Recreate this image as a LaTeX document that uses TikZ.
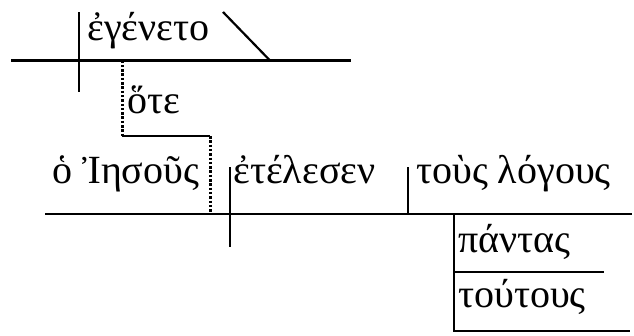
\documentclass[tikz,border=0pt]{standalone}
\usepackage{fontspec}
\setmainfont{Liberation Serif}
\begin{document}
\begin{tikzpicture}[x=1pt,y=-1pt,
  ln/.style={line width=2.2pt},
  dl/.style={line width=3pt,dash pattern=on 2.5pt off 1.8pt},
  wd/.style={anchor=base west,inner sep=0pt,font=\fontsize{40}{42}\selectfont}]
\useasboundingbox (0,0) rectangle (634,335);
% words
\node[wd] (egeneto) at (87,40) {ἐγένετο};
\node[wd] (ote) at (127,113) {ὅτε};
\node[wd] (iesous) at (52,183) {ὁ Ἰησοῦς};
\node[wd] (etelesen) at (233,183) {ἐτέλεσεν};
\node[wd] (logous) at (416,183) {τοὺς λόγους};
\node[wd] (pantas) at (458,252) {πάντας};
\node[wd] (toutous) at (458,307) {τούτους};
% coordinates
\coordinate (t1) at (11,60.5);
\coordinate (t2) at (351,60.5);
\coordinate (tv1) at (79,12);
\coordinate (tv2) at (79,92);
\coordinate (s1) at (223,12);
\coordinate (s2) at (270,60.5);
\coordinate (d1) at (122,60.5);
\coordinate (d2) at (122,136);
\coordinate (d3) at (210,136);
\coordinate (d4) at (210,213);
\coordinate (m1) at (45,214);
\coordinate (m2) at (632,214);
\coordinate (mv1) at (230,167);
\coordinate (mv2) at (230,247);
\coordinate (o1) at (408,167);
\coordinate (o2) at (408,214);
\coordinate (b1) at (454,214);
\coordinate (b2) at (454,332);
\coordinate (p1) at (454,272);
\coordinate (p2) at (604,272);
\coordinate (q2) at (630,331);
% lines
\draw[ln] (t1) -- (t2);
\draw[ln] (tv1) -- (tv2);
\draw[ln] (s1) -- (s2);
\draw[dl] (d1) -- (d2);
\draw[ln] (d2) -- (d3);
\draw[dl] (d3) -- (d4);
\draw[ln] (m1) -- (m2);
\draw[ln] (mv1) -- (mv2);
\draw[ln] (o1) -- (o2);
\draw[ln] (b1) -- (b2);
\draw[ln] (p1) -- (p2);
\draw[ln] (b2 |- q2) -- (q2);
\end{tikzpicture}
\end{document}
